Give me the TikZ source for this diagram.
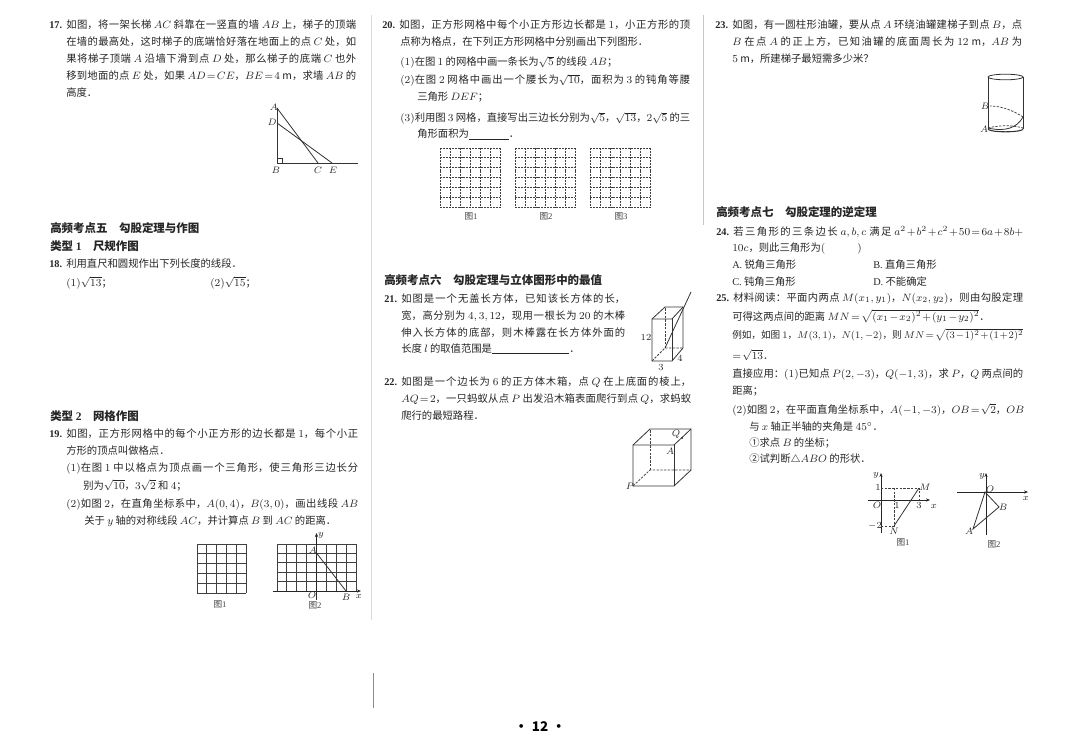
\documentclass[tikz,border=0pt]{standalone}
\usepackage[no-math]{fontspec}
\usepackage{amsmath}
\usepackage{amssymb}
\setmainfont{Noto Sans CJK SC}
\newfontfamily\numfont{Liberation Serif}
\usetikzlibrary{arrows.meta, calc}
\XeTeXlinebreaklocale "zh"
\XeTeXlinebreakskip=0pt plus 2pt minus 0.2pt
\DeclareMathSizes{7.75}{8}{6}{5}
\newcommand{\qno}[1]{\makebox[12.75pt][l]{\numfont\bfseries #1}}
\newcommand{\jfyline}{\parfillskip=0pt\relax\tolerance=9999\relax}
\begin{document}
\thickmuskip=2mu \medmuskip=1.5mu \relpenalty=10000 \binoppenalty=10000
\begin{tikzpicture}[x=0.75pt, y=-0.75pt,
    tfree/.style={anchor=base west, inner sep=0pt, text=black!85, font=\fontsize{7.75}{9}\selectfont},
    tline/.style={tfree, text width=#1*0.75pt, align=justify, execute at begin node=\jfyline},
    heading/.style={anchor=base west, inner sep=0pt, text=black!85, font=\fontsize{8.6}{10}\selectfont\bfseries},
    lbl/.style={inner sep=0pt, text=black!85, font=\fontsize{7}{8}\selectfont},
    figcap/.style={inner sep=0pt, text=black!75, font=\fontsize{6.5}{7}\selectfont},
    figline/.style={line width=0.6pt, draw=black!80},
    gridline/.style={line width=0.6pt, draw=black!75},
    dashgrid/.style={line width=0.6pt, draw=black!75, dash pattern=on 1.5pt off 0.7pt},
    hidden/.style={line width=0.55pt, draw=black!75, dash pattern=on 1.8pt off 1pt},
    axis/.style={line width=0.6pt, draw=black!85, -{Stealth[length=3pt,width=2.4pt]}}]
    \useasboundingbox (0,0) rectangle (1080,752);
    \fill[white] (0,0) rectangle (1080,752);

    % Gutter
    \coordinate (gutA) at (371,15); \coordinate (gutB) at (371,620);
    \coordinate (gutC) at (373,673); \coordinate (gutD) at (373,708);
    \coordinate (gutE) at (703,15); \coordinate (gutF) at (703,225);
    \draw[black!15, line width=0.5pt] (gutA) -- (gutB);
    \draw[black!45, line width=0.5pt] (gutC) -- (gutD);
    \draw[black!22, line width=0.5pt] (gutE) -- (gutF);

    % Question 17
    \node[tline=307] (q17a) at (49,29) {\qno{17.}如图，将一架长梯 $AC$ 斜靠在一竖直的墙 $AB$ 上，梯子的顶端};
    \node[tline=290] (q17b) at (66,46) {在墙的最高处，这时梯子的底端恰好落在地面上的点 $C$ 处，如};
    \node[tline=290] (q17c) at (66,63) {果将梯子顶端 $A$ 沿墙下滑到点 $D$ 处，那么梯子的底端 $C$ 也外};
    \node[tline=290] (q17d) at (66,80) {移到地面的点 $E$ 处，如果 $AD=CE$，$BE=4$ m，求墙 $AB$ 的};
    \node[tfree] (q17e) at (66,97) {高度．};

    % Ladder figure
    \coordinate (ptA) at (277,108); \coordinate (ptD) at (277,123);
    \coordinate (ptB) at (277,163); \coordinate (ptC) at (318,163);
    \coordinate (ptE) at (332,163); \coordinate (ptG) at (358,163);
    \draw[figline] (ptA) -- (ptB) -- (ptG);
    \draw[figline] (ptA) -- (ptC);
    \draw[figline] (ptD) -- (ptE);
    \draw[figline, line width=0.4pt] ($(ptB)+(0,-5)$) -| ($(ptB)+(5,0)$);
    \node[lbl] (lblA) at (274,107) {$A$};
    \node[lbl] (lblD) at (272,122) {$D$};
    \node[lbl] (lblB) at (276,170) {$B$};
    \node[lbl] (lblC) at (318,170) {$C$};
    \node[lbl] (lblE) at (333,170) {$E$};

    % Topic five
    \node[heading] (topic5) at (50,233) {高频考点五\hspace{1em}勾股定理与作图};
    \node[heading] (type1) at (50,250) {类型 {\numfont 1}\hspace{1em}尺规作图};
    \node[tfree] (q18a) at (49,267) {\qno{18.}利用直尺和圆规作出下列长度的线段．};
    \node[tfree] (q18b) at (66,286) {$(1)\sqrt{13}$；};
    \node[tfree] (q18c) at (210,286) {$(2)\sqrt{15}$；};

    % Question 19
    \node[heading] (type2) at (50,420) {类型 {\numfont 2}\hspace{1em}网格作图};
    \node[tline=309] (q19a) at (49,437) {\qno{19.}如图，正方形网格中的每个小正方形的边长都是 $1$，每个小正};
    \node[tfree] (q19b) at (66,454) {方形的顶点叫做格点．};
    \node[tline=292] (q19c) at (66,471) {$(1)$在图 $1$ 中以格点为顶点画一个三角形，使三角形三边长分};
    \node[tfree] (q19d) at (83,489) {别为$\sqrt{10}$，$3\sqrt{2}$ 和 $4$；};
    \node[tline=292] (q19e) at (66,507) {$(2)$如图 $2$，在直角坐标系中，$A(0,4)$，$B(3,0)$，画出线段 $AB$};
    \node[tline=252] (q19f) at (84,524) {关于 $y$ 轴的对称线段 $AC$，并计算点 $B$ 到 $AC$ 的距离．};

    % Grids of question 19
    \foreach \i in {0,...,5} {
        \draw[gridline] ({197+\i*9.8},544) -- ({197+\i*9.8},593);
        \draw[gridline] (197,{544+\i*9.8}) -- (246,{544+\i*9.8});
    }
    \foreach \i in {0,...,8}
        \draw[gridline] ({277+\i*9.875},544) -- ({277+\i*9.875},591);
    \foreach \i in {0,...,4}
        \draw[gridline] (277,{544+\i*9.4}) -- (356,{544+\i*9.4});
    \coordinate (axO) at (316.5,591);
    \coordinate (axXa) at (273,591); \coordinate (axXb) at (361,591);
    \coordinate (axYa) at (316.5,600); \coordinate (axYb) at (316.5,533);
    \coordinate (grA) at (316.5,553); \coordinate (grB) at (346,591);
    \draw[axis] (axXa) -- (axXb);
    \draw[axis] (axYa) -- (axYb);
    \draw[figline] (grA) -- (grB);
    \node[lbl] (lblA2) at (313,550) {$A$};
    \node[lbl] (lblO2) at (312,595) {$O$};
    \node[lbl] (lblB2) at (346,597) {$B$};
    \node[lbl] (lblx2) at (359,596) {$x$};
    \node[lbl] (lbly2) at (321,535) {$y$};
    \node[figcap] (cap19a) at (220,604) {图{\numfont 1}};
    \node[figcap] (cap19b) at (315,605) {图{\numfont 2}};

    % Question 20
    \node[tline=308] (q20a) at (382,29) {\qno{20.}如图，正方形网格中每个小正方形边长都是 $1$，小正方形的顶};
    \node[tfree] (q20b) at (400,46) {点称为格点，在下列正方形网格中分别画出下列图形．};
    \node[tfree] (q20c) at (400,66) {$(1)$在图 $1$ 的网格中画一条长为$\sqrt{5}$ 的线段 $AB$；};
    \node[tline=290] (q20d) at (400,84) {$(2)$在图 $2$ 网格中画出一个腰长为$\sqrt{10}$，面积为 $3$ 的钝角等腰};
    \node[tfree] (q20e) at (417,101) {三角形 $DEF$；};
    \node[tline=290] (q20f) at (400,122) {$(3)$利用图 $3$ 网格，直接写出三边长分别为$\sqrt{5}$，$\sqrt{13}$，$2\sqrt{5}$ 的三};
    \node[tfree] (q20g) at (417,138) {角形面积为\underline{\hspace{30pt}}．};

    % Grids of question 20
    \foreach \gx/\capn in {440/1, 515/2, 590/3} {
        \foreach \i in {0,...,6} {
            \draw[dashgrid] ({\gx+\i*10},148) -- ({\gx+\i*10},207);
            \draw[dashgrid] (\gx,{148+\i*9.83}) -- ({\gx+60},{148+\i*9.83});
        }
        \node[figcap] (cap20-\capn) at ({\gx+31},216) {图{\numfont \capn}};
    }

    % Topic six
    \node[heading] (topic6) at (384,284) {高频考点六\hspace{1em}勾股定理与立体图形中的最值};
    \node[tline=241] (q21a) at (384,302) {\qno{21.}如图是一个无盖长方体，已知该长方体的长，};
    \node[tline=224] (q21b) at (401,319) {宽，高分别为 $4,3,12$，现用一根长为 $20$ 的木棒};
    \node[tline=224] (q21c) at (401,336) {伸入长方体的底部，则木棒露在长方体外面的};
    \node[tfree] (q21d) at (401,352) {长度 $l$ 的取值范围是\underline{\hspace{58pt}}．};

    % Cuboid
    \coordinate (cuA) at (652,361); \coordinate (cuB) at (672,361);
    \coordinate (cuC) at (683,348); \coordinate (cuD) at (665,348);
    \coordinate (cuE) at (652,319); \coordinate (cuF) at (672,319);
    \coordinate (cuG) at (683,307); \coordinate (cuH) at (665,307);
    \coordinate (cuT) at (691,292);
    \draw[figline] (cuA) -- (cuB) -- (cuC) -- (cuG) -- (cuH) -- (cuE) -- cycle;
    \draw[figline] (cuE) -- (cuF) -- (cuG);
    \draw[figline] (cuB) -- (cuF);
    \draw[hidden] (cuA) -- (cuD) -- (cuC);
    \draw[hidden] (cuD) -- (cuH);
    \draw[figline] (cuD) -- (cuT);
    \node[lbl] (lbl12) at (646,337) {$12$};
    \node[lbl] (lbl3) at (661,367) {$3$};
    \node[lbl] (lbl4) at (680,358) {$4$};

    % Question 22
    \node[tline=307] (q22a) at (384,385) {\qno{22.}如图是一个边长为 $6$ 的正方体木箱，点 $Q$ 在上底面的棱上，};
    \node[tline=290] (q22b) at (401,402) {$AQ=2$，一只蚂蚁从点 $P$ 出发沿木箱表面爬行到点 $Q$，求蚂蚁};
    \node[tfree] (q22c) at (401,419) {爬行的最短路程．};

    % Cube
    \coordinate (cbA) at (633,486); \coordinate (cbB) at (674,486);
    \coordinate (cbC) at (691,470); \coordinate (cbD) at (650,470);
    \coordinate (cbE) at (633,445); \coordinate (cbF) at (674,445);
    \coordinate (cbG) at (691,429); \coordinate (cbH) at (650,429);
    \coordinate (cbQ) at (682,438);
    \draw[figline] (cbA) -- (cbB) -- (cbC) -- (cbG) -- (cbH) -- (cbE) -- cycle;
    \draw[figline] (cbE) -- (cbF) -- (cbG);
    \draw[figline] (cbB) -- (cbF);
    \draw[hidden] (cbA) -- (cbD) -- (cbC);
    \draw[hidden] (cbD) -- (cbH);
    \fill[black!85] (cbQ) circle (1);
    \node[lbl] (lblQ) at (676,434) {$Q$};
    \node[lbl] (lblA3) at (670,451) {$A$};
    \node[lbl] (lblP) at (630,486) {$P$};

    % Question 23
    \node[tline=307] (q23a) at (715,29) {\qno{23.}如图，有一圆柱形油罐，要从点 $A$ 环绕油罐建梯子到点 $B$，点};
    \node[tline=290] (q23b) at (732,46) {$B$ 在点 $A$ 的正上方，已知油罐的底面周长为 $12$ m，$AB$ 为};
    \node[tfree] (q23c) at (732,63) {$5$ m，所建梯子最短需多少米？};

    % Tank
    \coordinate (tkA) at (988,128); \coordinate (tkB) at (990,106);
    \coordinate (tkR) at (1023,117);
    \draw[figline] (1005.5,77) ellipse (17.5 and 2.8);
    \draw[figline] (988,77) -- (988,129);
    \draw[figline] (1023,77) -- (1023,129);
    \draw[figline, line width=0.8pt] (988,129) arc[start angle=180, end angle=360, x radius=17.5, y radius=-2.8];
    \draw[hidden] (tkA) .. controls (1000,125) and (1012,125) .. (1023,128);
    \draw[figline] (tkA) .. controls (1005,132) and (1017,128) .. (tkR);
    \draw[hidden] (tkR) .. controls (1014,111) and (1002,106) .. (tkB);
    \node[lbl] (lblB4) at (985,106) {$B$};
    \node[lbl] (lblA4) at (984,129) {$A$};

    % Topic seven
    \node[heading] (topic7) at (716,217) {高频考点七\hspace{1em}勾股定理的逆定理};
    \node[tline=307] (q24a) at (716,235) {\qno{24.}若三角形的三条边长 $a,b,c$ 满足 $a^2+b^2+c^2+50=6a+8b+$};
    \node[tfree] (q24b) at (732,252) {$10c$，则此三角形为$($\hspace{24pt}$)$};
    \node[tfree] (q24c) at (732,268) {{\numfont A.} 锐角三角形};
    \node[tfree] (q24d) at (873,268) {{\numfont B.} 直角三角形};
    \node[tfree] (q24e) at (732,285) {{\numfont C.} 钝角三角形};
    \node[tfree] (q24f) at (873,285) {{\numfont D.} 不能确定};

    % Question 25
    \node[tline=307] (q25a) at (716,301) {\qno{25.}材料阅读：平面内两点 $M(x_1,y_1)$，$N(x_2,y_2)$，则由勾股定理};
    \node[tfree] (q25b) at (732,320) {可得这两点间的距离 $MN=\sqrt{(x_1-x_2)^2+(y_1-y_2)^2}$．};
    \node[tfree] (q25c) at (732,338) {\resizebox{218.25pt}{!}{例如，如图 $1$，$M(3,1)$，$N(1,-2)$，则 $MN=\sqrt{(3-1)^2+(1+2)^2}$}};
    \node[tfree] (q25d) at (732,359) {$=\sqrt{13}$．};
    \node[tline=291] (q25e) at (732,377) {直接应用：$(1)$已知点 $P(2,-3)$，$Q(-1,3)$，求 $P$，$Q$ 两点间的};
    \node[tfree] (q25f) at (732,394) {距离；};
    \node[tline=292] (q25g) at (732,413) {$(2)$如图 $2$，在平面直角坐标系中，$A(-1,-3)$，$OB=\sqrt{2}$，$OB$};
    \node[tfree] (q25h) at (749,430) {与 $x$ 轴正半轴的夹角是 $45^\circ$．};
    \node[tfree] (q25i) at (749,446) {①求点 $B$ 的坐标；};
    \node[tfree] (q25j) at (749,462) {②试判断$\triangle ABO$ 的形状．};

    % Figure 1 of question 25
    \coordinate (oneO) at (881,500); \coordinate (oneM) at (919,488);
    \coordinate (oneN) at (894,526); \coordinate (oneP) at (881,488);
    \coordinate (oneQ) at (881,526); \coordinate (oneR) at (919,500);
    \coordinate (oneS) at (894,488);
    \draw[axis] (868,500) -- (930,500);
    \draw[axis] (881,533) -- (881,473);
    \draw[hidden] (oneP) -- (oneM) -- (oneR);
    \draw[hidden] (oneS) -- (oneN) -- (oneQ);
    \draw[figline] (oneM) -- (oneN);
    \node[lbl] (lbly5) at (876,475) {$y$};
    \node[lbl] (lbl15) at (878,487) {$1$};
    \node[lbl] (lblM) at (925,487) {$M$};
    \node[lbl] (lblO5) at (877,505) {$O$};
    \node[lbl] (lblone) at (897,505) {$1$};
    \node[lbl] (lblthree) at (919,505) {$3$};
    \node[lbl] (lblx5) at (934,506) {$x$};
    \node[lbl] (lblm2) at (875,526) {$-2$};
    \node[lbl] (lblN) at (894,531) {$N$};
    \node[figcap] (cap25a) at (903,542) {图{\numfont 1}};

    % Figure 2 of question 25
    \coordinate (twoO) at (985,492); \coordinate (twoB) at (999,507);
    \coordinate (twoA) at (973,529);
    \draw[axis] (957,492) -- (1028,492);
    \draw[axis] (986,535) -- (986,473);
    \draw[figline] (twoO) -- (twoB) -- (twoA) -- cycle;
    \node[lbl] (lbly6) at (982,476) {$y$};
    \node[lbl] (lblO6) at (990,489) {$O$};
    \node[lbl] (lblB6) at (1003,507) {$B$};
    \node[lbl] (lblA6) at (969,531) {$A$};
    \node[lbl] (lblx6) at (1026,498) {$x$};
    \node[figcap] (cap25b) at (994,544) {图{\numfont 2}};

    % Page number
    \node[inner sep=0pt, font=\fontsize{10}{12}\selectfont\bfseries] (pageno) at (540,727) {·\hspace{0.3em}12\hspace{0.3em}·};
\end{tikzpicture}
\end{document}
